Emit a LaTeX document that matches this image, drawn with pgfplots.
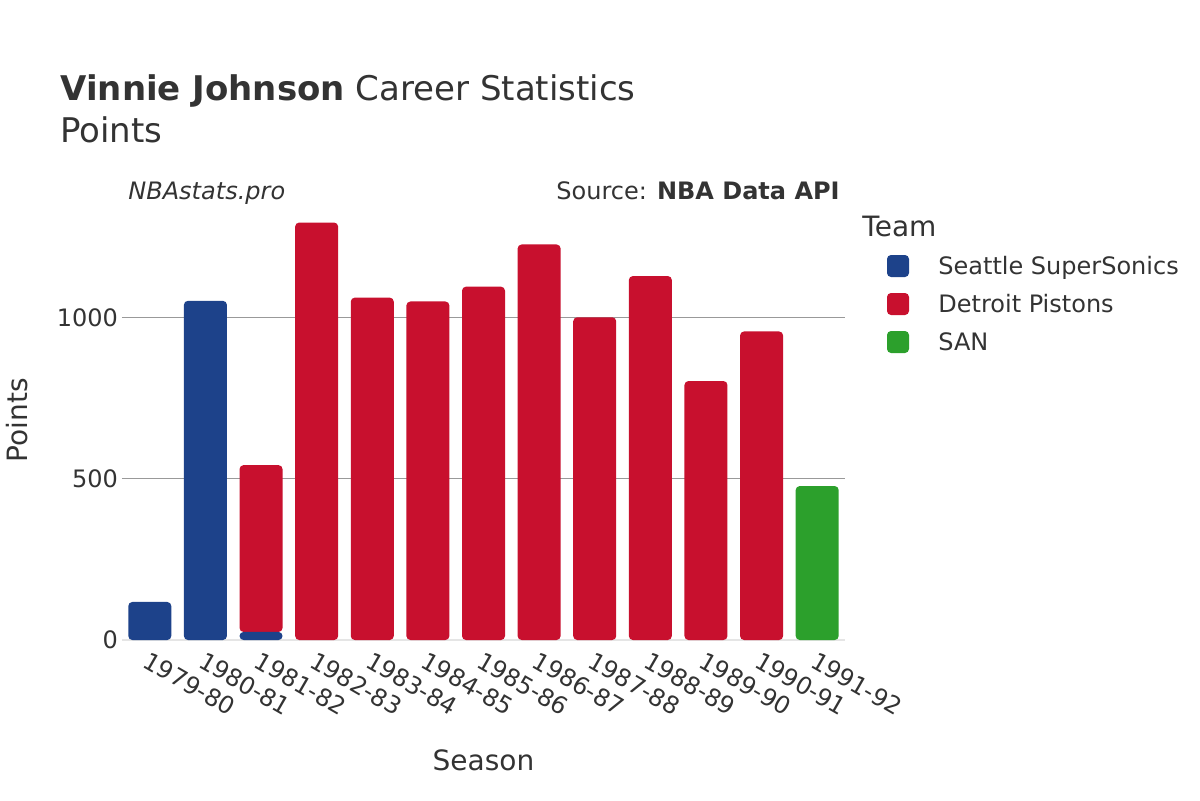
\documentclass[border=0pt]{standalone}
\usepackage{pgfplots}
\pgfplotsset{compat=1.18}
\usepackage{fontspec}
\setmainfont{DejaVu Sans}
\definecolor{sea}{HTML}{1D428A}
\definecolor{det}{HTML}{C8102E}
\definecolor{san}{HTML}{2CA02C}
\definecolor{txt}{HTML}{333333}
\begin{document}
\begin{tikzpicture}[x=1pt,y=1pt]
\path[use as bounding box] (0,0) rectangle (600,400);
\begin{axis}[
  at={(61pt,80pt)}, anchor=south west,
  scale only axis, width=361.5pt, height=219.5pt,
  xmin=-0.5, xmax=12.5, ymin=0, ymax=1363,
  ybar stacked, bar width=21.5pt,
  axis line style={draw=none},
  major tick length=0pt,
  xtick=data,
  xticklabels={1979-80,1980-81,1981-82,1982-83,1983-84,1984-85,1985-86,1986-87,1987-88,1988-89,1989-90,1990-91,1991-92},
  xticklabel style={rotate=-30, anchor=north west, font=\fontsize{12}{14}\selectfont, text=txt, xshift=-0.5pt, yshift=-1pt},
  ytick={500,1000},
  extra y ticks={0},
  extra y tick style={grid style={color=black!10, line width=1.2pt}},
  ymajorgrids, grid style={color=black!40, line width=0.5pt},
  yticklabel style={font=\fontsize{12}{14}\selectfont, text=txt, xshift=1.5pt},
  /pgf/number format/assume math mode=true,
  /pgf/number format/1000 sep={},
  xlabel={Season}, ylabel={Points},
  xlabel style={font=\fontsize{14}{16}\selectfont, text=txt, at={(axis description cs:0.5,-0.273)}, anchor=center},
  ylabel style={font=\fontsize{14}{16}\selectfont, text=txt, at={(axis description cs:-0.145,0.501)}, anchor=center, rotate=0},
  every axis plot/.append style={draw=none, rounded corners=2pt},
]
\addplot[fill=sea] coordinates {(0,118) (1,1053) (2,25) (3,0) (4,0) (5,0) (6,0) (7,0) (8,0) (9,0) (10,0) (11,0) (12,0)};
\addplot[fill=det] coordinates {(0,0) (1,0) (2,518) (3,1296) (4,1063) (5,1051) (6,1097) (7,1228) (8,1002) (9,1130) (10,804) (11,958) (12,0)};
\addplot[fill=san] coordinates {(0,0) (1,0) (2,0) (3,0) (4,0) (5,0) (6,0) (7,0) (8,0) (9,0) (10,0) (11,0) (12,478)};
\end{axis}
\node[anchor=base west, inner sep=0, font=\fontsize{17}{20}\selectfont, text=txt] at (30,349.5) {\textbf{Vinnie Johnson} Career Statistics};
\node[anchor=base west, inner sep=0, font=\fontsize{17}{20}\selectfont, text=txt] at (30,328.5) {Points};
\node[anchor=base west, inner sep=0, font=\fontsize{12}{14}\selectfont\itshape, text=txt] at (64,300.5) {NBAstats.pro};
\node[anchor=base east, inner sep=0, font=\fontsize{12}{14}\selectfont, text=txt] at (420,300.5) {Source: \textbf{NBA Data API}};
\node[anchor=base west, inner sep=0, font=\fontsize{14}{16}\selectfont, text=txt] at (431,282) {Team};
\fill[sea, rounded corners=2pt] (443.5,261.5) rectangle (454.5,272.5);
\fill[det, rounded corners=2pt] (443.5,242.5) rectangle (454.5,253.5);
\fill[san, rounded corners=2pt] (443.5,223.5) rectangle (454.5,234.5);
\node[anchor=base west, inner sep=0, font=\fontsize{12}{14}\selectfont, text=txt] at (469,262.6) {Seattle SuperSonics};
\node[anchor=base west, inner sep=0, font=\fontsize{12}{14}\selectfont, text=txt] at (469,243.6) {Detroit Pistons};
\node[anchor=base west, inner sep=0, font=\fontsize{12}{14}\selectfont, text=txt] at (469,224.6) {SAN};
\end{tikzpicture}
\end{document}
